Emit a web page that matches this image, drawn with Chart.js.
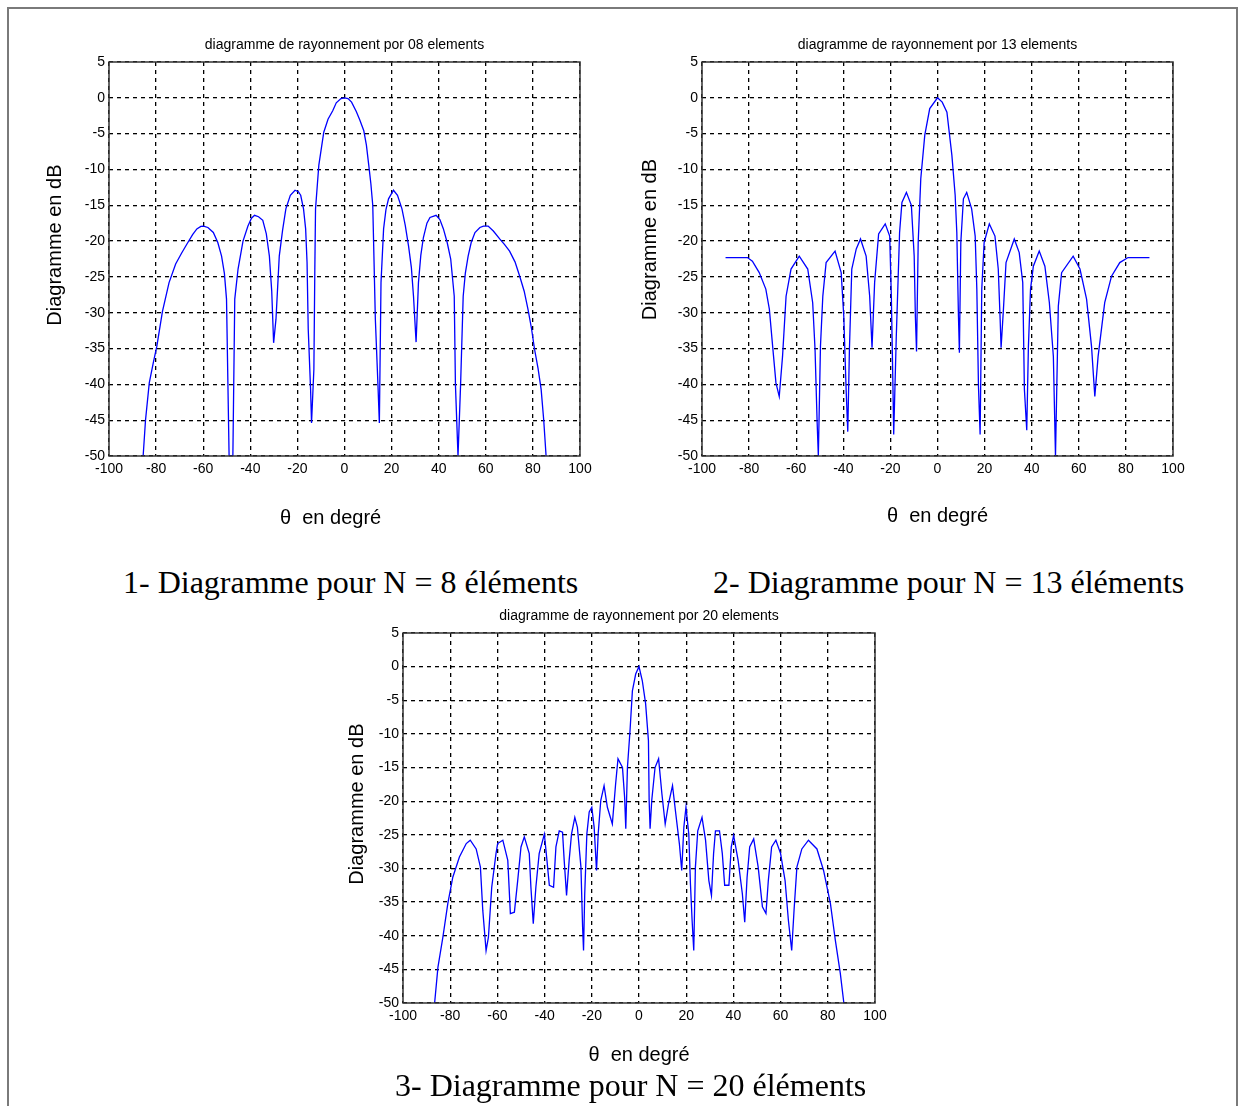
<!DOCTYPE html>
<html>
<head>
<meta charset="utf-8">
<title>Diagrammes de rayonnement</title>
<script src="https://cdn.jsdelivr.net/npm/chart.js@4.4.1/dist/chart.umd.min.js"></script>
<style>
body { margin: 0; background: #fff; }
#page { position: relative; width: 1240px; height: 1106px; overflow: hidden; }
.frame { position: absolute; left: 7px; top: 7px; width: 1227px; height: 1120px; border: 2px solid #7a7a7a; border-bottom: none; }
canvas { position: absolute; }
.caption { position: absolute; font-family: 'Liberation Serif', 'Times New Roman', serif; font-size: 32px; line-height: 32px; white-space: nowrap; color: #000; }
</style>
</head>
<body>
<div id="page">
  <div class="frame"></div>
  <canvas id="c8" width="570" height="505" style="left:30px;top:30px"></canvas>
  <canvas id="c13" width="570" height="505" style="left:622px;top:30px"></canvas>
  <canvas id="c20" width="580" height="470" style="left:320px;top:600px"></canvas>
  <div class="caption" style="left:123px;top:566px">1- Diagramme pour N = 8 éléments</div>
  <div class="caption" style="left:713px;top:566px">2- Diagramme pour N = 13 éléments</div>
  <div class="caption" style="left:395px;top:1069px">3- Diagramme pour N = 20 éléments</div>
</div>
<script>
// axes (same for the 3 diagrams)
const xTicks = [-100, -80, -60, -40, -20, 0, 20, 40, 60, 80, 100];
const yTicks = [5, 0, -5, -10, -15, -20, -25, -30, -35, -40, -45, -50];

// N = 8 elements
const theta8 = [-85.5, -84.5, -82.9, -81.2, -79.7, -77.3, -74.5, -71.7, -69.2, -66.9, -64.5, -62.7, -61.0,
  -59.9, -58.0, -55.7, -53.8, -52.2, -51.0, -50.1, -49.0, -47.4,
  -46.6, -45.2, -43.1, -41.0, -39.5, -38.2, -36.5, -34.7, -33.2, -31.9, -30.9, -30.1, -29.1, -27.7,
  -26.3, -24.9, -23.0, -21.0, -19.6, -18.6, -17.4, -16.5, -15.9, -15.4, -14.4, -14.0, -13.0, -12.6,
  -12.3, -11.5, -10.9, -9.8, -8.8, -7.0, -5.0, -3.5, -1.5, 0,
  1.5, 3.0, 5.0, 6.5, 8.2, 9.3, 10.3, 11.2, 12.0, 13.1, 14.2, 14.8, 15.5, 16.6, 17.6, 18.7, 20.8, 22.5,
  24.4, 25.8, 27.2, 28.4, 29.3, 30.4, 31.4, 32.4, 33.5, 35.0, 36.3, 38.9, 40.5, 42.0, 43.6, 45.1, 46.6,
  47.1, 48.2, 49.3, 50.4, 51.3, 52.5, 53.8, 55.4, 57.5, 59.0, 61.0, 63.2, 65.9, 68.0, 70.1, 72.4, 74.4,
  76.3, 77.9, 79.4, 80.7, 82.2, 83.5, 84.6, 85.6];
const db8 = [-50, -45, -39.8, -37, -34.7, -29.8, -25.8, -23.2, -21.7, -20.4, -19.1, -18.3, -17.95,
  -17.9, -18.1, -18.8, -20.2, -22.1, -24.5, -28.1, -50, -50,
  -28.1, -23.9, -20, -17.9, -16.8, -16.4, -16.6, -17.1, -19, -22.1, -27, -34.2, -30.9, -22.1,
  -18.5, -15.5, -13.6, -12.9, -13.1, -13.6, -15.5, -18.3, -23, -32.3, -40.7, -45.4, -37.9, -23.9,
  -15.5, -12, -9.4, -7, -4.8, -3, -1.8, -0.7, -0.1, 0,
  -0.1, -0.6, -1.9, -3.1, -4.6, -6.6, -9.4, -12, -15, -30.9, -40, -45.4, -25.8, -18.3, -15.6, -14.1, -12.9, -13.6,
  -15.5, -17.8, -20.7, -23.7, -27.7, -34.1, -25.8, -22, -19.5, -17.5, -16.7, -16.4, -17, -18.3, -20.2, -22.5, -27.7,
  -40, -50, -40, -27.7, -24.5, -22.1, -20.2, -18.8, -18.1, -17.9, -17.9, -18.6, -19.7, -20.5, -21.4, -22.9, -24.9,
  -27, -29.5, -32.2, -35.1, -37.8, -40.7, -45, -50];

// N = 13 elements
const theta13 = [-90, -80.7, -78.6, -75.7, -72.9, -71.4, -70.0, -68.6, -67.2, -65.8, -64.3, -62.2, -58.7,
  -55.1, -53.0, -52.0, -51.1, -50.6, -49.7, -48.7, -47.3, -43.5, -40.9, -39.8, -38.8, -38.1, -37.4, -36.4,
  -34.5, -32.7, -30.3, -28.8, -27.8, -26.7, -25.0, -22.2, -20.3, -19.6, -18.9, -18.6, -17.5, -16.1, -15.1,
  -13.2, -11.1, -9.9, -9.4, -8.9, -8.2, -7.1, -5.4, -3.3, 0,
  2.0, 4.0, 6.1, 7.5, 8.2, 8.9, 9.3, 9.9, 11.0, 12.4, 14.5, 16.0, 16.7, 17.4, 18.1, 18.8, 19.8, 22.0,
  24.4, 25.8, 26.6, 27.0, 28.0, 29.1, 32.6, 34.7, 36.2, 36.9, 37.9, 38.6, 39.5, 40.7, 43.2, 45.6, 47.5,
  49.2, 50.1, 51.3, 52.7, 57.6, 60.5, 63.3, 65.4, 66.8, 68.2, 71.0, 73.9, 77.4, 80.9, 90];
const db13 = [-22.3, -22.3, -22.8, -24.4, -26.7, -29.5, -34.7, -39.8, -41.7, -36.1, -27.7, -23.9, -22.1,
  -23.9, -28.6, -35.1, -45.4, -50, -34.7, -27.7, -23, -21.4, -24.4, -30.5, -40.7, -46.6, -35.1, -23.9,
  -21.1, -19.7, -22.1, -27.7, -34.9, -25.8, -19, -17.6, -19.3, -27.7, -40.7, -47, -33.3, -18.8, -14.6,
  -13.2, -15, -22.1, -30.5, -35.4, -20.2, -11.3, -5.2, -1.5, 0,
  -0.6, -2, -8, -13.6, -18.8, -30.5, -35.6, -20.2, -14.1, -13.2, -15.5, -19.3, -26.7, -40.3, -47, -26.7, -20.2, -17.6,
  -19.3, -23.9, -30.9, -34.9, -29.5, -23, -19.7, -21.6, -25.8, -40.7, -46.4, -34.7, -26.7, -23.5, -21.4, -23.5, -28.6,
  -36.1, -50, -29.1, -24.4, -22.1, -23.9, -28.1, -34.7, -41.7, -36.1, -28.6, -24.9, -23, -22.3, -22.3];

// N = 20 elements
const theta20 = [-86.6, -85.2, -83.1, -81.0, -78.9, -76.1, -73.2, -71.5, -69.0, -67.2, -66.2, -64.8, -63.8,
  -62.4, -60.6, -59.9, -57.7, -55.6, -54.5, -52.8, -51.4, -50.0, -48.6, -46.5, -45.8, -44.8, -43.7, -42.3,
  -40.1, -39.0, -38.0, -36.2, -35.2, -33.8, -32.4, -31.7, -30.7, -29.6, -28.6, -27.2, -26.1, -24.6, -23.9,
  -23.5, -23.0, -22.1, -21.1, -20.0, -19.0, -18.0, -17.3, -16.2, -14.8, -13.4, -11.3, -9.9, -8.9, -7.0,
  -6.1, -5.6, -4.9, -3.8, -2.8, -1.4, 0,
  1.4, 2.8, 4.0, 4.3, 4.7, 5.4, 6.8, 8.3, 9.7, 11.1, 12.5, 14.2, 15.6, 17.1, 18.1, 19.0, 19.9, 21.1, 21.8,
  22.5, 23.2, 23.9, 24.9, 26.7, 28.2, 29.6, 30.7, 31.6, 32.4, 34.1, 35.3, 36.3, 38.1, 39.1, 40.1, 42.0,
  43.8, 44.8, 45.8, 46.9, 48.6, 50.5, 52.3, 53.8, 54.8, 56.2, 58.0, 60.0, 61.9, 63.3, 64.7, 65.7, 66.9,
  69.0, 71.8, 75.4, 78.2, 81.1, 83.2, 85.3, 86.8];
const db20 = [-50, -44.7, -40.2, -35.2, -31.3, -28.3, -26.3, -25.8, -27.1, -29.8, -36.2, -42.2, -40.2,
  -32.8, -27.8, -26.3, -25.8, -28.8, -36.7, -36.5, -31.8, -26.8, -25.3, -27.8, -32.8, -38.2, -32.8, -27.8,
  -24.9, -28.8, -32.5, -32.8, -26.8, -24.4, -24.6, -28.8, -34, -28.8, -24.9, -22.4, -23.9, -29.8, -38.7,
  -42.2, -33.8, -24.9, -21.6, -20.9, -23.9, -30.3, -24.9, -19.9, -17.7, -20.9, -23.4, -17.4, -13.7, -15,
  -19.4, -24.1, -15, -9.5, -3.6, -1.1, 0,
  -2.1, -5.5, -11, -19.9, -24.1, -19.9, -15, -13.7, -18.9, -23.4, -20.4, -17.7, -21.9, -26.3, -30.3, -23.9, -20.9, -24.9, -32.3,
  -37.7, -42.2, -29.8, -24.4, -22.4, -25.8, -31.8, -34, -27.8, -24.4, -24.4, -27.8, -32.5, -32.5, -26.8, -25.1, -28.8,
  -33.8, -38, -31.3, -26.8, -25.6, -29.8, -35.7, -36.7, -31.8, -26.8, -25.8, -27.8, -31.8, -37.7, -42.2, -36.2, -29.8,
  -27.1, -25.8, -27.1, -30.3, -35.2, -40.7, -45.6, -50];

Chart.defaults.font.family = "'Liberation Sans', Arial, sans-serif";
Chart.defaults.color = '#000';

// MATLAB style box around the plot area
const boxPlugin = {
  id: 'box',
  afterDatasetsDraw(chart) {
    const a = chart.chartArea;
    const ctx = chart.ctx;
    ctx.save();
    ctx.strokeStyle = '#333';
    ctx.lineWidth = 1.5;
    ctx.strokeRect(a.left, a.top, a.right - a.left, a.bottom - a.top);
    ctx.restore();
  }
};

function drawDiagram(id, theta, db, cfg) {
  const points = theta.map((t, i) => ({ x: t, y: db[i] }));
  return new Chart(document.getElementById(id), {
    type: 'line',
    data: {
      datasets: [{
        data: points,
        borderColor: '#0000ff',
        borderWidth: 1.3,
        pointRadius: 0,
        tension: 0,
        fill: false
      }]
    },
    options: {
      responsive: false,
      animation: false,
      layout: { padding: { top: 0, right: cfg.padRight, bottom: 0, left: 0 } },
      plugins: {
        legend: { display: false },
        tooltip: { enabled: false },
        title: {
          display: true,
          fullSize: false,
          text: cfg.title,
          font: { size: 14, weight: 'normal' },
          padding: { top: cfg.titleTop, bottom: cfg.titleBottom }
        }
      },
      scales: {
        x: {
          type: 'linear',
          min: -100,
          max: 100,
          afterBuildTicks: s => { s.ticks = xTicks.map(v => ({ value: v })); },
          afterFit: s => { s.height = cfg.xHeight; },
          ticks: { font: { size: 14 }, padding: 5, autoSkip: false, maxRotation: 0 },
          grid: { color: '#000', lineWidth: 1.3, drawTicks: false },
          border: { display: false, dash: [4, 4] },
          title: {
            display: true,
            text: cfg.xTitle,
            font: { size: 20 },
            padding: { top: 0, bottom: cfg.xTitleBottom }
          }
        },
        y: {
          type: 'linear',
          min: -50,
          max: 5,
          afterBuildTicks: s => { s.ticks = yTicks.map(v => ({ value: v })); },
          afterFit: s => { s.width = cfg.yWidth; },
          ticks: { font: { size: 14 }, padding: 4 },
          grid: { color: '#000', lineWidth: 1.3, drawTicks: false },
          border: { display: false, dash: [4, 4] },
          title: {
            display: true,
            text: cfg.yTitle,
            font: { size: 20 },
            padding: { top: cfg.yTitleTop, bottom: 0 }
          }
        }
      }
    },
    plugins: [boxPlugin]
  });
}

drawDiagram('c8', theta8, db8, {
  title: 'diagramme de rayonnement por 08 elements',
  xTitle: 'θ  en degré     ',
  yTitle: '     Diagramme en dB',
  padRight: 20, titleTop: 6.6, titleBottom: 8.6,
  xHeight: 79, xTitleBottom: 5, yWidth: 79, yTitleTop: 13
});

drawDiagram('c13', theta13, db13, {
  title: 'diagramme de rayonnement por 13 elements',
  xTitle: 'θ  en degré',
  yTitle: '       Diagramme en dB',
  padRight: 19, titleTop: 6.6, titleBottom: 8.6,
  xHeight: 79, xTitleBottom: 7, yWidth: 80, yTitleTop: 16
});

drawDiagram('c20', theta20, db20, {
  title: 'diagramme de rayonnement por 20 elements',
  xTitle: 'θ  en degré',
  yTitle: '     Diagramme en dB',
  padRight: 25, titleTop: 7.6, titleBottom: 8.6,
  xHeight: 67, xTitleBottom: 3, yWidth: 83, yTitleTop: 25
});
</script>
</body>
</html>
